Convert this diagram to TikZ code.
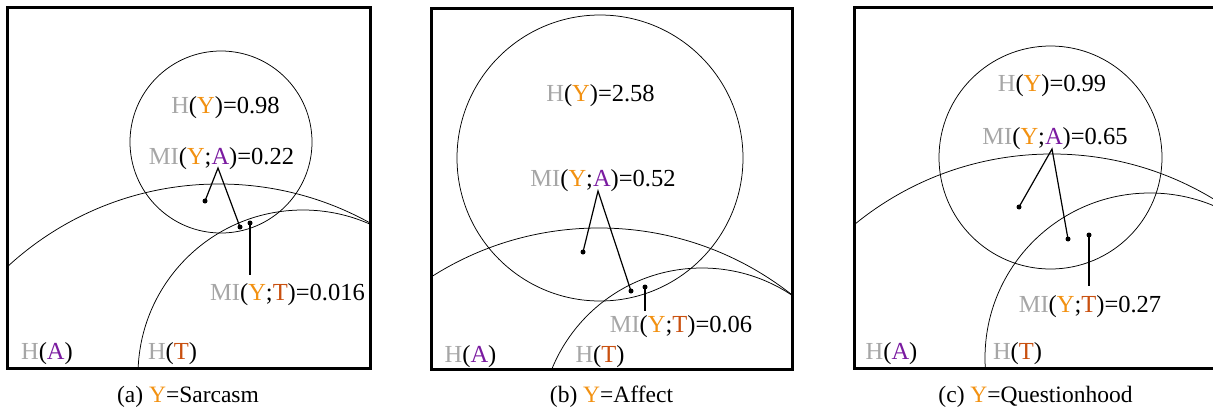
\documentclass[tikz,border=0pt]{standalone}
\usepackage{fontspec}
\setmainfont{Liberation Serif}
\definecolor{hgray}{HTML}{A6A6A6}
\definecolor{yor}{HTML}{F29111}
\definecolor{apur}{HTML}{7A1BA0}
\definecolor{tred}{HTML}{C9500F}
\newcommand{\Hg}{{\color{hgray}H}}
\newcommand{\MIg}{{\color{hgray}MI}}
\newcommand{\Yc}{{\color{yor}Y}}
\newcommand{\Ac}{{\color{apur}A}}
\newcommand{\Tc}{{\color{tred}T}}
\tikzset{
  frame/.style={line width=3pt},
  venn/.style={line width=0.75pt},
  conn/.style={line width=1.2pt},
  dot/.style={circle, fill=black, inner sep=0pt, minimum size=5pt},
  lab/.style={anchor=base, inner sep=0pt, font=\fontsize{24.5}{28}\selectfont},
  captxt/.style={anchor=base, inner sep=0pt, font=\fontsize{23.5}{28}\selectfont}
}
\begin{document}
\begin{tikzpicture}[x=1pt,y=-1pt]
\useasboundingbox (0,0) rectangle (1213,410);
% ---------- panel (a)
\begin{scope}
\clip (7,7) rectangle (370,368);
\draw[venn] (221,142) circle[radius=91pt];
\draw[venn] (219,496) circle[radius=312pt];
\draw[venn] (303,375) circle[radius=165pt];
\end{scope}
\draw[frame] (7,7) rectangle (370,368);
\node[lab] (aHY) at (225.5,113) {\Hg(\Yc)=0.98};
\node[lab] (aMIYA) at (221.5,164) {\MIg(\Yc;\Ac)=0.22};
\node[lab] (aMIYT) at (287.5,300) {\MIg(\Yc;\Tc)=0.016};
\node[lab] (aHA) at (47,359) {\Hg(\Ac)};
\node[lab] (aHT) at (172.5,359) {\Hg(\Tc)};
\node[captxt] (acap) at (188,402) {(a) \Yc=Sarcasm};
\node[dot] (ad1) at (205,201) {};
\node[dot] (ad2) at (240,227) {};
\node[dot] (ad3) at (250,223) {};
\coordinate (aapex) at (218,168);
\coordinate (atail) at (250,275);
\draw[conn] (ad1.center) -- (aapex) -- (ad2.center);
\draw[conn] (ad3.center) -- (atail);
% ---------- panel (b)
\begin{scope}
\clip (431,8) rectangle (792,369);
\draw[venn] (600,158) circle[radius=143pt];
\draw[venn] (599,540) circle[radius=312pt];
\draw[venn] (702,430) circle[radius=162pt];
\end{scope}
\draw[frame] (431,8) rectangle (792,369);
\node[lab] (bHY) at (600.5,101) {\Hg(\Yc)=2.58};
\node[lab] (bMIYA) at (603,186) {\MIg(\Yc;\Ac)=0.52};
\node[lab] (bMIYT) at (681,332) {\MIg(\Yc;\Tc)=0.06};
\node[lab] (bHA) at (470.5,362) {\Hg(\Ac)};
\node[lab] (bHT) at (600,362) {\Hg(\Tc)};
\node[captxt] (bcap) at (611.5,402) {(b) \Yc=Affect};
\node[dot] (bd1) at (583,252) {};
\node[dot] (bd2) at (631,291) {};
\node[dot] (bd3) at (645,287) {};
\coordinate (bapex) at (598,191);
\coordinate (btail) at (645,311);
\draw[conn] (bd1.center) -- (bapex) -- (bd2.center);
\draw[conn] (bd3.center) -- (btail);
% ---------- panel (c)
\begin{scope}
\clip (854,7) rectangle (1217,368);
\draw[venn] (1050.5,157.5) circle[radius=111.5pt];
\draw[venn] (1052,466) circle[radius=312pt];
\draw[venn] (1150,358) circle[radius=165pt];
\end{scope}
\draw[frame] (854,7) rectangle (1217,368);
\node[lab] (cHY) at (1052,91) {\Hg(\Yc)=0.99};
\node[lab] (cMIYA) at (1055,144) {\MIg(\Yc;\Ac)=0.65};
\node[lab] (cMIYT) at (1090,312) {\MIg(\Yc;\Tc)=0.27};
\node[lab] (cHA) at (891.5,359) {\Hg(\Ac)};
\node[lab] (cHT) at (1017.5,359) {\Hg(\Tc)};
\node[captxt] (ccap) at (1035.5,402) {(c) \Yc=Questionhood};
\node[dot] (cd1) at (1019,207) {};
\node[dot] (cd2) at (1068,239) {};
\node[dot] (cd3) at (1089,235) {};
\coordinate (capex) at (1052,149);
\coordinate (ctail) at (1089,286);
\draw[conn] (cd1.center) -- (capex) -- (cd2.center);
\draw[conn] (cd3.center) -- (ctail);
\end{tikzpicture}
\end{document}
